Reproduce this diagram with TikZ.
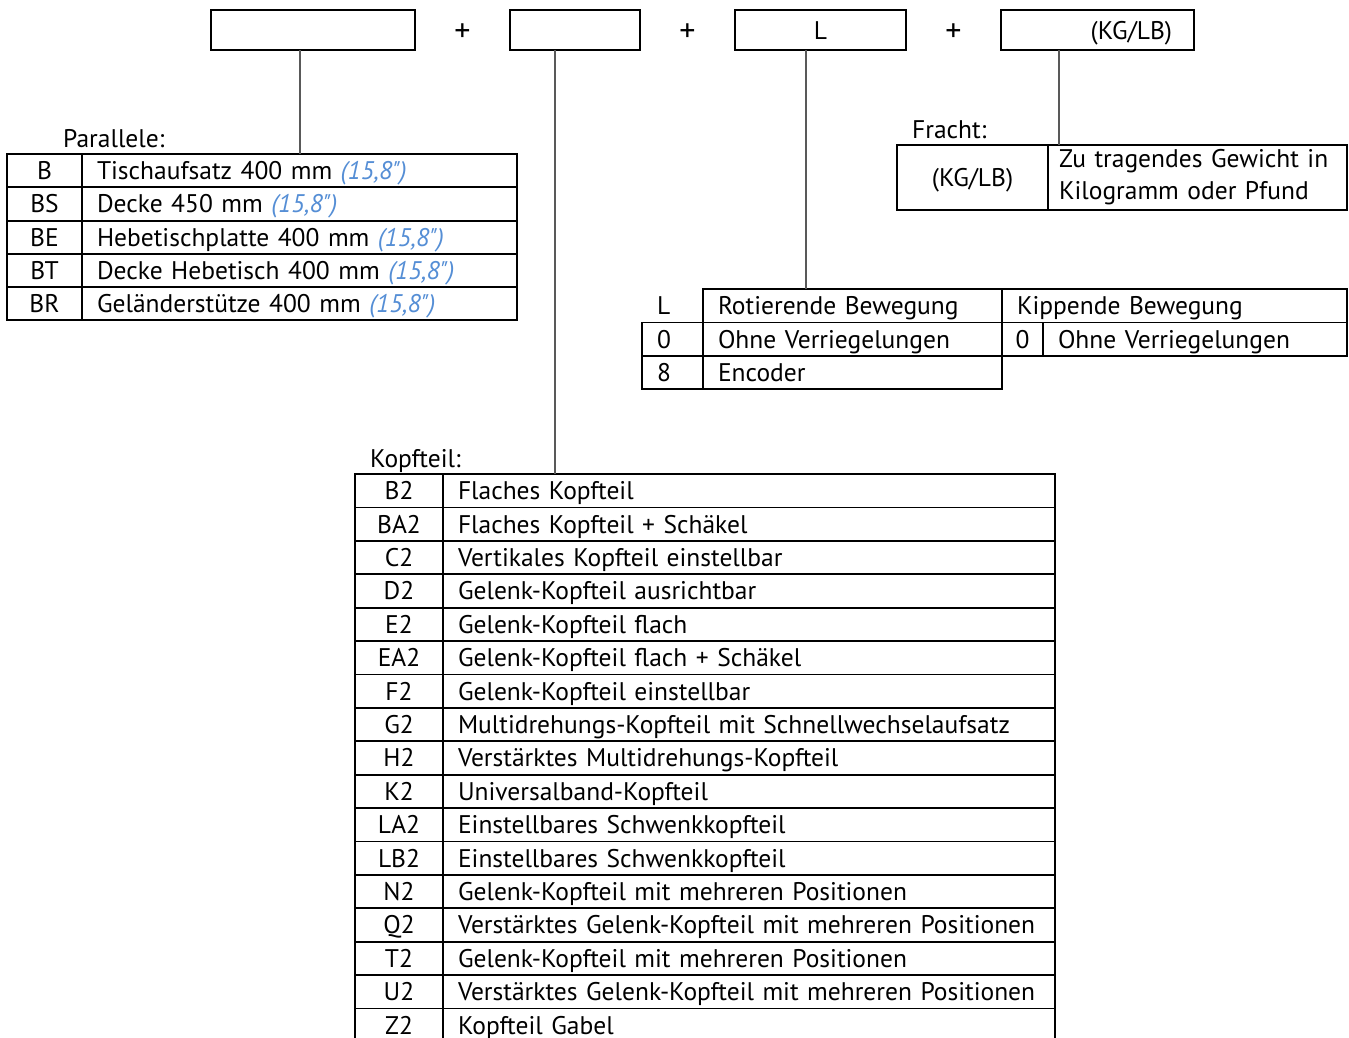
\documentclass[tikz,border=0pt]{standalone}
\usepackage{fontspec}
\setmainfont{PT Sans}
\usepackage{xcolor}
\usetikzlibrary{positioning}

\definecolor{zollblue}{RGB}{85,142,213}
\newcommand\zoll{{\color{zollblue}\itshape(15,8\textquotedbl)}}

\begin{document}
\begin{tikzpicture}[
    x=1pt, y=-1pt,
    font=\fontsize{25.5}{28}\selectfont,
    node distance=95pt,
    topbox/.style={draw, line width=2pt, outer sep=0pt, minimum height=40pt, inner sep=0pt, text height=18pt, text depth=-2pt},
    plus/.style={font=\fontsize{32}{32}\selectfont, inner sep=0pt, yshift=-3pt},
    cell/.style={draw, line width=1.8pt, outer sep=0pt, anchor=north west, inner ysep=0pt, inner xsep=15pt, minimum height=33.4pt, text height=18pt, text depth=0pt},
    desccell/.style={cell, align=left},
    link/.style={draw=black!65, line width=1.3pt},
    caption/.style={anchor=base west, inner sep=0pt}
  ]
  \useasboundingbox (0,0) rectangle (1349,1037);
  \clip (0,0) rectangle (1349,1037);

  % order code boxes
  \node[topbox, minimum width=204pt] (b1) at (313,30) {};
  \node[topbox, minimum width=130pt, right=of b1] (b2) {};
  \node[topbox, minimum width=171pt, right=of b2] (b3) {L};
  \node[topbox, text width=149pt, inner xsep=22pt, align=right, right=of b3] (b4) {(KG/LB)};
  \path (b1) -- node[plus] (plus1) {+} (b2);
  \path (b2) -- node[plus] (plus2) {+} (b3);
  \path (b3) -- node[plus] (plus3) {+} (b4);

  % Parallele
  \foreach \code/\desc [count=\i from 0] in {
      B/Tischaufsatz 400 mm \zoll,
      BS/Decke 450 mm \zoll,
      BE/Hebetischplatte 400 mm \zoll,
      BT/Decke Hebetisch 400 mm \zoll,
      BR/Geländerstütze 400 mm \zoll}
  {
    \node[cell, minimum width=75pt] (pc\i) at (7, {154+33.2*\i}) {\code};
    \node[desccell, text width=405pt] (pd\i) at (pc\i.north east) {\desc};
  }
  \node[caption] (parlbl) at ([xshift=56pt, yshift=7pt]pc0.north west) {Parallele:};

  % Fracht
  \node[cell, minimum width=151pt, minimum height=65pt] (fc) at (897,145) {(KG/LB)};
  \node[desccell, text width=277pt, inner xsep=11pt, minimum height=65pt, text height=, text depth=,
        font=\fontsize{25.5}{32}\selectfont] (fd) at (fc.north east)
        {Zu tragendes Gewicht in\\Kilogramm oder Pfund};
  \node[caption] (frlbl) at ([xshift=15pt, yshift=7pt]fc.north west) {Fracht:};

  % Bewegung
  \node[cell, draw=none, text width=31pt, align=left] (lc0) at (642,289) {L};
  \node[desccell, text width=269pt] (ld0) at (lc0.north east) {Rotierende Bewegung};
  \node[desccell, text width=315pt] (kd0) at (ld0.north east) {Kippende Bewegung};
  \node[cell, text width=31pt, align=left, minimum height=33.3pt] (lc1) at (lc0.south west) {0};
  \node[desccell, text width=269pt] (ld1) at (lc1.north east) {Ohne Verriegelungen};
  \node[cell, minimum width=41pt, inner xsep=4pt] (kc1) at (ld1.north east) {0};
  \node[desccell, text width=274pt] (kd1) at (kc1.north east) {Ohne Verriegelungen};
  \node[cell, text width=31pt, align=left] (lc2) at (lc1.south west) {8};
  \node[desccell, text width=269pt] (ld2) at (lc2.north east) {Encoder};

  % Kopfteil
  \foreach \code/\desc [count=\i from 0] in {
      B2/Flaches Kopfteil,
      BA2/Flaches Kopfteil + Schäkel,
      C2/Vertikales Kopfteil einstellbar,
      D2/Gelenk-Kopfteil ausrichtbar,
      E2/Gelenk-Kopfteil flach,
      EA2/Gelenk-Kopfteil flach + Schäkel,
      F2/Gelenk-Kopfteil einstellbar,
      G2/Multidrehungs-Kopfteil mit Schnellwechselaufsatz,
      H2/Verstärktes Multidrehungs-Kopfteil,
      K2/Universalband-Kopfteil,
      LA2/Einstellbares Schwenkkopfteil,
      LB2/Einstellbares Schwenkkopfteil,
      N2/Gelenk-Kopfteil mit mehreren Positionen,
      Q2/Verstärktes Gelenk-Kopfteil mit mehreren Positionen,
      T2/Gelenk-Kopfteil mit mehreren Positionen,
      U2/Verstärktes Gelenk-Kopfteil mit mehreren Positionen,
      Z2/Kopfteil Gabel}
  {
    \node[cell, minimum width=88pt] (kc\i) at (355, {474+33.4*\i}) {\code};
    \node[desccell, text width=582pt] (kd\i) at (kc\i.north east) {\desc};
  }
  \node[caption] (koplbl) at ([xshift=15pt, yshift=7pt]kc0.north west) {Kopfteil:};

  % connectors
  \draw[link] ([xshift=-13pt]b1.south) -- ([xshift=-13pt]b1.south |- pc0.north);
  \draw[link] ([xshift=-20pt]b2.south) -- ([xshift=-20pt]b2.south |- kc0.north);
  \draw[link] ([xshift=-14.5pt]b3.south) -- ([xshift=-14.5pt]b3.south |- ld0.north);
  \draw[link] ([xshift=-38.5pt]b4.south) -- ([xshift=-38.5pt]b4.south |- fd.north);
\end{tikzpicture}
\end{document}
